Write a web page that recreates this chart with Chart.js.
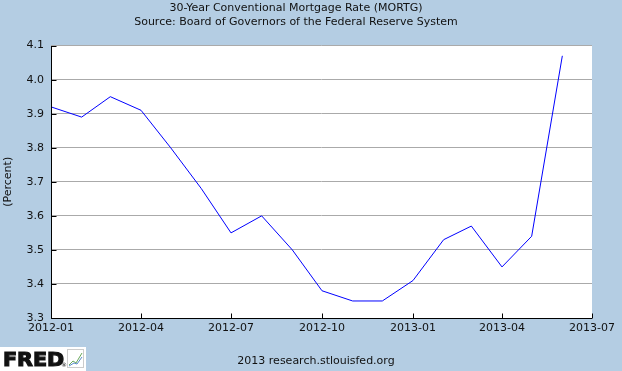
<!DOCTYPE html>
<html>
<head>
<meta charset="utf-8">
<script src="https://cdn.jsdelivr.net/npm/chart.js@4/dist/chart.umd.min.js"></script>
<style>
  html, body { margin: 0; padding: 0; background: #B4CDE3; }
  #wrap { width: 622px; height: 371px; }
</style>
</head>
<body>
<div id="wrap"><canvas id="mortg" width="622" height="371"></canvas></div>
<script>
// monthly observations, 30-year conventional mortgage rate (percent)
var months = ['2012-01', '2012-02', '2012-03', '2012-04', '2012-05', '2012-06',
              '2012-07', '2012-08', '2012-09', '2012-10', '2012-11', '2012-12',
              '2013-01', '2013-02', '2013-03', '2013-04', '2013-05', '2013-06'];
var rates = [3.92, 3.89, 3.95, 3.91, 3.80, 3.68,
             3.55, 3.60, 3.50, 3.38, 3.35, 3.35,
             3.41, 3.53, 3.57, 3.45, 3.54, 4.07];

var xTicks = ['2012-01', '2012-04', '2012-07', '2012-10', '2013-01', '2013-04', '2013-07'];
var yTicks = [3.3, 3.4, 3.5, 3.6, 3.7, 3.8, 3.9, 4.0, 4.1];

var titleLines = ['30-Year Conventional Mortgage Rate (MORTG)',
                  'Source: Board of Governors of the Federal Reserve System'];
var yTitle = '(Percent)';
var footerText = '2013 research.stlouisfed.org';

var BG = '#B4CDE3';
var FONT = 'DejaVu Sans';

// days since the first month, so the x axis is spaced like a date axis
function dayOf(m) {
    var p = m.split('-');
    var t0 = Date.UTC(2012, 0, 1);
    return (Date.UTC(+p[0], +p[1] - 1, 1) - t0) / 864e5;
}

var points = months.map(function (m, i) { return { x: dayOf(m), y: rates[i] }; });

// canvas background + white plot area
var backdrop = {
    id: 'backdrop',
    beforeDraw: function (chart) {
        var c = chart.ctx, a = chart.chartArea;
        c.save();
        c.fillStyle = BG;
        c.fillRect(0, 0, chart.width, chart.height);
        c.fillStyle = '#FFFFFF';
        c.fillRect(a.left, a.top, a.right - a.left, a.bottom - a.top);
        c.restore();
    }
};

// black axis lines with short inner tick marks, then footer + badge
var innerTicks = {
    id: 'innerTicks',
    afterDraw: function (chart) {
        var c = chart.ctx, a = chart.chartArea;
        var xs = chart.scales.x, ys = chart.scales.y;
        c.save();
        c.strokeStyle = '#000000';
        c.lineWidth = 1;
        c.beginPath();
        var L = Math.round(a.left) + 0.5, B = Math.round(a.bottom) + 0.5;
        c.moveTo(L, Math.round(a.top));
        c.lineTo(L, B);
        c.lineTo(Math.round(a.right), B);
        xs.ticks.forEach(function (t) {
            var px = Math.round(xs.getPixelForValue(t.value)) + 0.5;
            c.moveTo(px, B);
            c.lineTo(px, B - 5);
        });
        ys.ticks.forEach(function (t) {
            var py = Math.round(ys.getPixelForValue(t.value)) + 0.5;
            c.moveTo(L, py);
            c.lineTo(L + 5, py);
        });
        c.stroke();

        // footer text
        c.fillStyle = '#111111';
        c.font = '11px "' + FONT + '"';
        c.textAlign = 'center';
        c.textBaseline = 'middle';
        c.fillText(footerText, 316, 361);

        // FRED badge
        c.fillStyle = '#FFFFFF';
        c.fillRect(0, 347, 86, 24);
        c.fillStyle = '#111111';
        c.strokeStyle = '#111111';
        c.lineWidth = 1.2;
        c.font = 'bold 20px "' + FONT + '"';
        c.textAlign = 'left';
        c.textBaseline = 'alphabetic';
        c.save();
        c.translate(3, 366);
        c.scale(1.03, 1);
        c.fillText('FRED', 0, 0);
        c.strokeText('FRED', 0, 0);
        c.restore();
        c.font = '6px "' + FONT + '"';
        c.fillText('®', 61, 367);
        c.lineWidth = 1;
        c.strokeStyle = '#CCCCCC';
        c.strokeRect(67.5, 349.5, 16, 18);
        c.beginPath();
        c.strokeStyle = '#6BAA5A';
        c.moveTo(69, 365); c.lineTo(73, 361); c.lineTo(76, 363); c.lineTo(82, 353);
        c.stroke();
        c.beginPath();
        c.strokeStyle = '#5A8BC8';
        c.moveTo(69, 366); c.lineTo(74, 363); c.lineTo(77, 364); c.lineTo(82, 357);
        c.stroke();
        c.restore();
    }
};

new Chart(document.getElementById('mortg'), {
    type: 'line',
    data: {
        datasets: [{
            label: 'MORTG',
            data: points,
            borderColor: '#0000FF',
            borderWidth: 1,
            pointRadius: 0,
            tension: 0,
            fill: false
        }]
    },
    options: {
        responsive: false,
        animation: false,
        devicePixelRatio: 1,
        layout: { padding: { left: 0, right: 30, top: 0, bottom: 0 } },
        plugins: {
            legend: { display: false },
            tooltip: { enabled: false },
            title: {
                display: true,
                text: titleLines,
                color: '#111111',
                font: { family: FONT, size: 11, weight: 'normal', lineHeight: 1.3 },
                padding: { top: 1, bottom: 16 }
            }
        },
        scales: {
            x: {
                type: 'linear',
                min: dayOf(xTicks[0]),
                max: dayOf(xTicks[xTicks.length - 1]),
                afterBuildTicks: function (scale) {
                    scale.ticks = xTicks.map(function (m) { return { value: dayOf(m) }; });
                },
                afterFit: function (scale) { scale.height = 53; },
                grid: { display: false, drawTicks: false },
                border: { display: false },
                ticks: {
                    autoSkip: false,
                    maxRotation: 0,
                    padding: 4,
                    color: '#111111',
                    font: { family: FONT, size: 11 },
                    callback: function (v, i) { return xTicks[i]; }
                }
            },
            y: {
                min: yTicks[0],
                max: yTicks[yTicks.length - 1],
                afterBuildTicks: function (scale) {
                    scale.ticks = yTicks.map(function (v) { return { value: v }; });
                },
                afterFit: function (scale) { scale.width = 51; },
                grid: { color: '#AAAAAA', drawTicks: false },
                border: { display: false },
                ticks: {
                    padding: 7,
                    color: '#111111',
                    font: { family: FONT, size: 11 },
                    callback: function (v) { return v.toFixed(1); }
                },
                title: {
                    display: true,
                    text: yTitle,
                    color: '#111111',
                    font: { family: FONT, size: 11 },
                    padding: { top: 2, bottom: 0 }
                }
            }
        }
    },
    plugins: [backdrop, innerTicks]
});
</script>
</body>
</html>
